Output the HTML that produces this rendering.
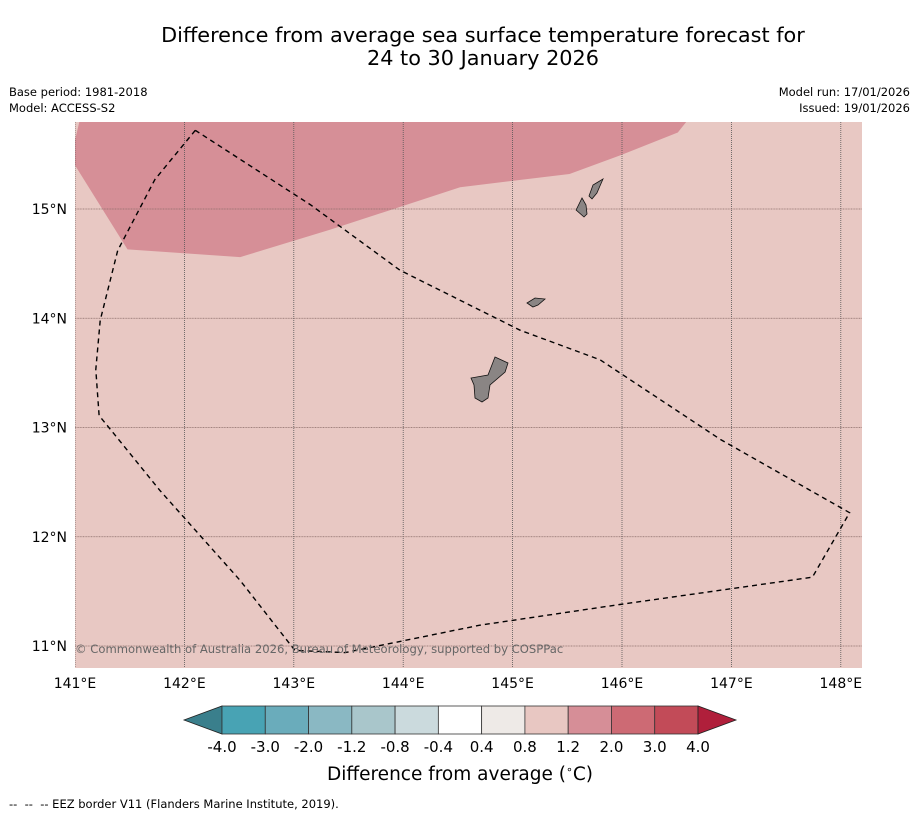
<!DOCTYPE html>
<html><head><meta charset="utf-8"><style>
body{margin:0;background:#fff;font-family:"Liberation Sans","DejaVu Sans",sans-serif}
</style></head><body>
<svg id="chart" width="919" height="816" xmlns="http://www.w3.org/2000/svg" font-family="DejaVu Sans, Liberation Sans, sans-serif">
<rect width="919" height="816" fill="#fff"/>
<text x="483" y="42" font-size="20.8" text-anchor="middle">Difference from average sea surface temperature forecast for</text>
<text x="483" y="65" font-size="20.8" text-anchor="middle">24 to 30 January 2026</text>
<text x="9" y="96" font-size="11.5">Base period: 1981-2018</text>
<text x="9" y="112" font-size="11.5">Model: ACCESS-S2</text>
<text x="910" y="96" font-size="11.5" text-anchor="end">Model run: 17/01/2026</text>
<text x="910" y="112" font-size="11.5" text-anchor="end">Issued: 19/01/2026</text>
<g id="map"></g>
<g id="cbar"></g>
<text x="460" y="780" font-size="18.5" text-anchor="middle">Difference from average (<tspan font-size="11" dy="-7">∘</tspan><tspan dy="7">C)</tspan></text>
<text x="9" y="808" font-size="11.5" xml:space="preserve" style="white-space:pre">--  --  -- EEZ border V11 (Flanders Marine Institute, 2019).</text>
</svg>
<script>
const lonTicks=[141,142,143,144,145,146,147,148];
const latTicks=[11,12,13,14,15];
const warmLon=[141.04,141.0,141.0,141.48,142.51,143.33,144.52,145.52,145.98,146.51,146.59];
const warmLat=[15.80,15.63,15.40,14.63,14.56,14.81,15.20,15.32,15.49,15.70,15.80];
const eezLon=[142.10,141.73,141.39,141.23,141.19,141.22,141.78,142.51,143.01,143.47,144.70,145.98,147.74,148.08,146.90,145.80,145.07,144.79,143.97,143.15,142.10];
const eezLat=[15.72,15.27,14.62,13.98,13.53,13.11,12.42,11.60,10.96,10.94,11.19,11.38,11.63,12.22,12.89,13.62,13.89,14.03,14.44,15.04,15.72];
const guamLon=[144.839,144.958,144.931,144.793,144.775,144.720,144.656,144.647,144.620,144.775];
const guamLat=[13.645,13.590,13.508,13.389,13.270,13.233,13.270,13.389,13.453,13.481];
const rotaLon=[145.132,145.205,145.296,145.232,145.186];
const rotaLat=[14.140,14.185,14.176,14.121,14.103];
const tinianLon=[145.634,145.671,145.680,145.653,145.580];
const tinianLat=[15.101,15.037,14.954,14.927,14.991];
const saipanLon=[145.826,145.799,145.771,145.726,145.698,145.735];
const saipanLat=[15.275,15.211,15.146,15.092,15.119,15.220];
const cbLabels=["-4.0","-3.0","-2.0","-1.2","-0.8","-0.4","0.4","0.8","1.2","2.0","3.0","4.0"];
const cbColors=["#48a3b4","#6aacbb","#8ab8c3","#a9c6cb","#cbdadd","#ffffff","#eeeae7","#e8c7c2","#d68e97","#cd6a74","#c24b58"];
const NS="http://www.w3.org/2000/svg";
const X0=75,X1=862,Y0=122,Y1=668;
const xS=lon=>75+(lon-141)*109.4;
const yS=lat=>209-(lat-15)*109.25;
function mk(tag,attrs,parent){const e=document.createElementNS(NS,tag);for(const k in attrs)e.setAttribute(k,attrs[k]);parent.appendChild(e);return e;}
const map=document.getElementById('map');
const bg=mk('rect',{x:X0,y:Y0,width:X1-X0,height:Y1-Y0,fill:'#e8c8c3'},map);


const clip=mk('clipPath',{id:'mc'},map);mk('rect',{x:X0,y:Y0,width:X1-X0,height:Y1-Y0},clip);
const g=mk('g',{'clip-path':'url(#mc)'},map);
function pts(lo,la){return lo.map((v,i)=>xS(v).toFixed(1)+','+yS(la[i]).toFixed(1)).join(' ');}
const warm=mk('polygon',{points:pts(warmLon,warmLat),fill:'#d68f97'},g);


lonTicks.forEach(l=>{const ln=mk('line',{x1:xS(l),x2:xS(l),y1:Y0,y2:Y1,stroke:'#555','stroke-width':0.8,'stroke-dasharray':'1,1'},g);


const t=mk('text',{x:xS(l),y:688,'font-size':14,'text-anchor':'middle'},map);t.textContent=l+'°E';

});
latTicks.forEach(l=>{const ln=mk('line',{x1:X0,x2:X1,y1:yS(l),y2:yS(l),stroke:'#8a6d6a','stroke-width':0.8,'stroke-dasharray':'1,0.6'},g);


const t=mk('text',{x:67,y:yS(l)+5,'font-size':14,'text-anchor':'end'},map);t.textContent=l+'°N';

});
[[guamLon,guamLat,'guam'],[rotaLon,rotaLat,'rota'],[tinianLon,tinianLat,'tinian'],[saipanLon,saipanLat,'saipan']].forEach(a=>{
const p=mk('polygon',{points:pts(a[0],a[1]),fill:'#8a8584',stroke:'#111','stroke-width':0.8},g);

});
const eez=mk('polyline',{points:pts(eezLon,eezLat),fill:'none',stroke:'#000','stroke-width':1.4,'stroke-dasharray':'5,4'},g);


const cp=mk('text',{x:75,y:653,'font-size':11.6,fill:'#666'},map);cp.textContent='© Commonwealth of Australia 2026, Bureau of Meteorology, supported by COSPPac';


const cb=document.getElementById('cbar');
const cx0=222,cw=(698-222)/cbColors.length,cy=706,ch=28;
const lt=mk('polygon',{points:`184,720 ${cx0},${cy} ${cx0},${cy+ch}`,fill:'#3a7f8c',stroke:'#222','stroke-width':0.8},cb);


cbColors.forEach((c,i)=>{const r=mk('rect',{x:cx0+i*cw,y:cy,width:cw,height:ch,fill:c,stroke:'#333','stroke-width':0.8},cb);

});
const rt=mk('polygon',{points:`736,720 698,${cy} 698,${cy+ch}`,fill:'#b01f3b',stroke:'#222','stroke-width':0.8},cb);


cbLabels.forEach((s,i)=>{const t=mk('text',{x:cx0+i*cw,y:752,'font-size':15,'text-anchor':'middle'},cb);t.textContent=s;

});
</script>
</body></html>
